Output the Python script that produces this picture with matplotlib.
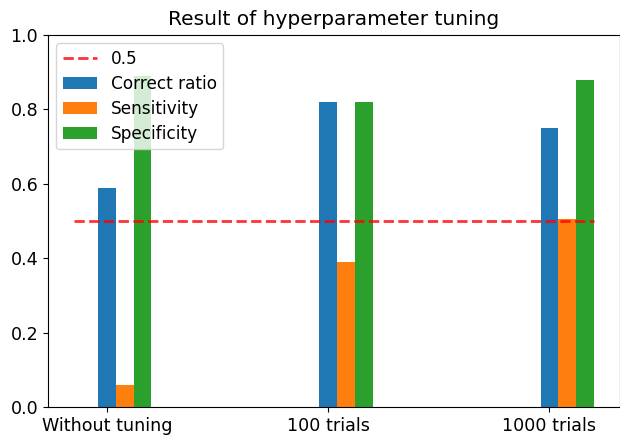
import numpy as np
import matplotlib
matplotlib.use("Agg")
import matplotlib.pyplot as plt

# data
labels = ["Without tuning", "100 trials", "1000 trials"]
correct_ratio = [0.59, 0.82, 0.75]
sensitivity = [0.06, 0.39, 0.505]
specificity = [0.89, 0.82, 0.88]

x = np.arange(len(labels))
w = 0.08

fig = plt.figure(figsize=(6.2, 4.43), dpi=100)
ax = fig.add_axes([0.0774, 0.0813, 0.922, 0.8397])

ax.hlines(0.5, -0.15, 2.2, colors="red", linestyles="--", alpha=0.8, linewidth=2, label="0.5")
ax.bar(x, correct_ratio, width=w, label="Correct ratio")
ax.bar(x + w, sensitivity, width=w, label="Sensitivity")
ax.bar(x + 2 * w, specificity, width=w, label="Specificity")

ax.set_xlim(-0.2675, 2.3175)
ax.set_ylim(0, 1.0)
ax.set_xticks(x)
ax.set_xticklabels(labels, fontsize=12.6)
ax.tick_params(axis="y", labelsize=12.6)
ax.set_title("Result of hyperparameter tuning", fontsize=14.5, pad=7)
ax.legend(loc="upper left", fontsize=12.2, labelspacing=0.4)

fig.savefig("out.png")
